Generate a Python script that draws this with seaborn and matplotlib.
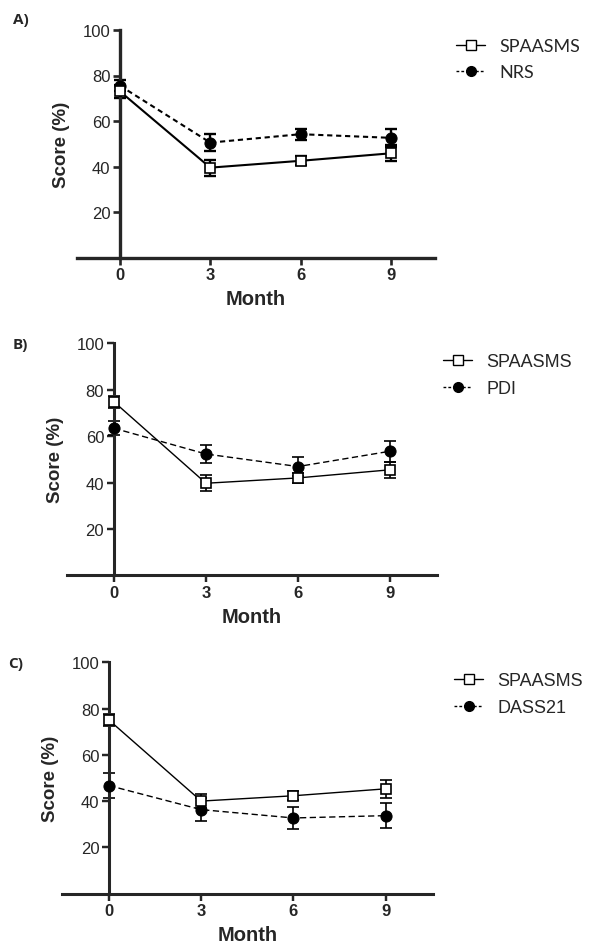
import matplotlib
matplotlib.use("Agg")
import matplotlib.pyplot as plt
import seaborn as sns
import pandas as pd
from matplotlib.lines import Line2D

months = [0, 3, 6, 9]
xticks = [0, 3, 6, 9]
yticks = [20, 40, 60, 80, 100]

spaasms_a = [73.0, 39.5, 42.5, 45.8]
spaasms_a_err = [3.0, 3.5, 2.0, 3.5]
nrs = [75.5, 50.5, 54.2, 52.6]
nrs_err = [2.5, 3.8, 2.5, 4.0]

spaasms_b = [74.8, 39.7, 42.0, 45.5]
spaasms_b_err = [2.5, 3.5, 2.2, 3.5]
pdi = [63.4, 52.3, 46.9, 53.5]
pdi_err = [3.0, 3.8, 4.0, 4.5]

spaasms_c = [75.0, 40.0, 42.3, 45.3]
spaasms_c_err = [2.5, 3.0, 2.0, 3.8]
dass21 = [46.7, 36.3, 32.7, 33.7]
dass21_err = [5.5, 5.0, 4.8, 5.5]

panels = [
    dict(label="A)", other="NRS", s=spaasms_a, se=spaasms_a_err, o=nrs, oe=nrs_err,
         rect=(77, 31, 435, 258.5), xlim=(-1.43, 10.47), dash=(0, (2.5, 1.8)), lw=1.5,
         spw=2.4, lab_xy=(13, 20), leg_xy=(440, 23), legfont="Lato"),
    dict(label="B)", other="PDI", s=spaasms_b, se=spaasms_b_err, o=pdi, oe=pdi_err,
         rect=(67, 344.3, 437, 576.4), xlim=(-1.53, 10.53), dash=(0, (4.5, 2.5)), lw=1.0,
         spw=2.2, lab_xy=(13, 345), leg_xy=(427, 338), legfont="Liberation Sans"),
    dict(label="C)", other="DASS21", s=spaasms_c, se=spaasms_c_err, o=dass21, oe=dass21_err,
         rect=(62, 663.3, 433, 894.6), xlim=(-1.53, 10.54), dash=(0, (4.5, 2.5)), lw=1.0,
         spw=2.2, lab_xy=(8, 664), leg_xy=(438, 657), legfont="Liberation Sans"),
]

sns.set_style("ticks")
plt.rcParams["font.family"] = ["Liberation Sans", "DejaVu Sans"]

W, H = 598, 945
fig = plt.figure(figsize=(W / 100, H / 100), dpi=100)

for p in panels:
    l, t, r, b = p["rect"]
    ax = fig.add_axes([l / W, 1 - b / H, (r - l) / W, (b - t) / H])
    df_s = pd.DataFrame({"Month": months, "Score": p["s"]})
    df_o = pd.DataFrame({"Month": months, "Score": p["o"]})

    ax.errorbar(months, p["s"], yerr=p["se"], fmt="none", ecolor="black",
                elinewidth=p["lw"] + 0.2, capsize=4, capthick=p["lw"] + 0.2, zorder=2, clip_on=False)
    ax.errorbar(months, p["o"], yerr=p["oe"], fmt="none", ecolor="black",
                elinewidth=p["lw"] + 0.2, capsize=4, capthick=p["lw"] + 0.2, zorder=2, clip_on=False)

    sns.lineplot(data=df_o, x="Month", y="Score", ax=ax, color="black", marker="o",
                 markersize=8, markerfacecolor="black", markeredgecolor="black",
                 linewidth=p["lw"], errorbar=None, zorder=3, clip_on=False)
    ax.lines[-1].set_linestyle(p["dash"])
    sns.lineplot(data=df_s, x="Month", y="Score", ax=ax, color="black", marker="s",
                 markersize=7, markerfacecolor="white", markeredgecolor="black",
                 markeredgewidth=1.2, linewidth=p["lw"], errorbar=None, zorder=4, clip_on=False)

    ax.set_xlim(*p["xlim"])
    ax.set_ylim(0, 100)
    ax.set_xticks(xticks)
    ax.set_yticks(yticks)
    ax.tick_params(axis="both", direction="out", length=5, width=p["spw"] * 0.8,
                   labelsize=12, pad=2)
    for lbl in ax.get_xticklabels() + ax.get_yticklabels():
        lbl.set_fontweight("bold")
    sns.despine(ax=ax)
    ax.spines["left"].set_position(("data", 0))
    ax.spines["left"].set_linewidth(p["spw"])
    ax.spines["bottom"].set_linewidth(p["spw"])
    ax.set_xlabel("Month", fontsize=14.5, fontweight="bold", labelpad=5)
    ax.set_ylabel("Score (%)", fontsize=13.5, fontweight="bold")

    # y label x position relative to the y axis at month 0
    x0_px = l + (0 - p["xlim"][0]) / (p["xlim"][1] - p["xlim"][0]) * (r - l)
    ax.yaxis.set_label_coords((x0_px - 50 - l) / (r - l), 0.5)

    fig.text(p["lab_xy"][0] / W, 1 - p["lab_xy"][1] / H, p["label"], fontsize=11,
             fontweight="bold", family="Open Sans", va="center", ha="left")

    handles = [
        Line2D([], [], color="black", linewidth=1.0, marker="s", markersize=7,
               markerfacecolor="white", markeredgecolor="black"),
        Line2D([], [], color="black", linewidth=1.0, linestyle=(0, (2, 1.5)), marker="o",
               markersize=7, markerfacecolor="black"),
    ]
    fig.legend(handles, ["SPAASMS", p["other"]], loc="upper left",
               bbox_to_anchor=(p["leg_xy"][0] / W, 1 - p["leg_xy"][1] / H),
               frameon=False, handlelength=1.6, handletextpad=0.8, labelspacing=0.55,
               prop={"family": p["legfont"], "size": 13})

fig.savefig("out.png", dpi=100)
